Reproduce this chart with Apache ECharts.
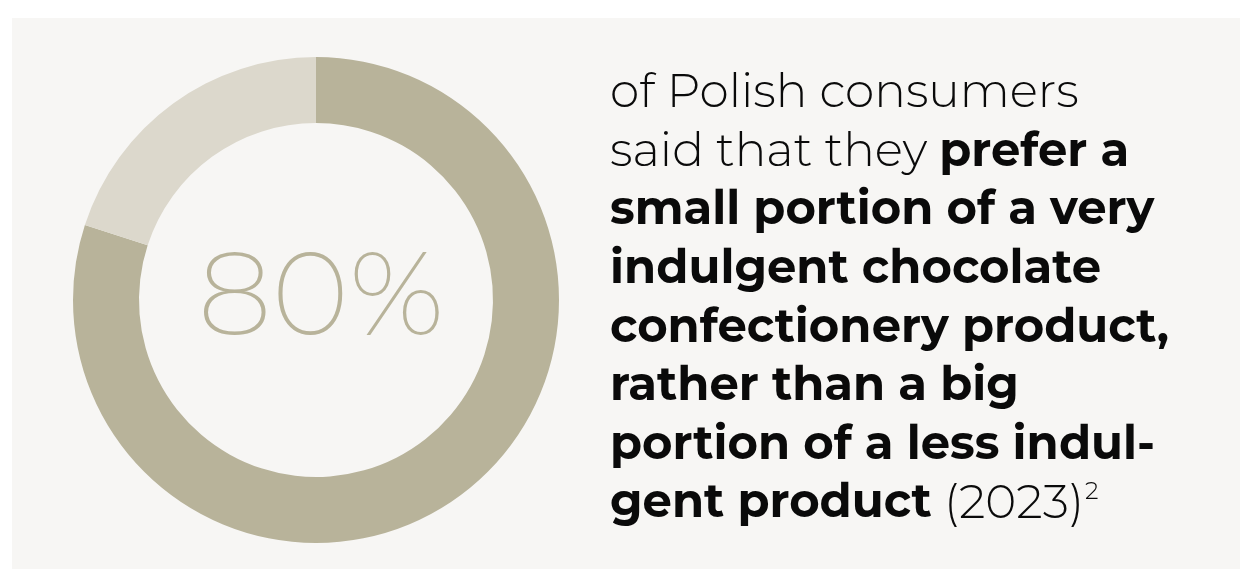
<!DOCTYPE html>
<html>
<head>
<meta charset="utf-8">
<script src="https://cdn.jsdelivr.net/npm/echarts@6/dist/echarts.min.js"></script>
<style>
  html, body { margin: 0; padding: 0; background: #ffffff; }
  #chart { width: 1240px; height: 569px; }
</style>
</head>
<body>
<div id="chart"></div>
<script>
// Share of Polish consumers preferring a small, very indulgent portion
const categories = ['Prefer a small indulgent portion', 'Other'];
const shares = [80, 20];
const sliceColors = ['#b8b39a', '#dcd8cc'];

// Statement text, line by line: [style, text] fragments
const statementLines = [
  [['light', 'of Polish consumers']],
  [['light', 'said that they '], ['bold', 'prefer a']],
  [['bold', 'small portion of a very']],
  [['bold', 'indulgent chocolate']],
  [['bold', 'confectionery product,']],
  [['bold', 'rather than a big']],
  [['bold', 'portion of a less indul-']],
  [['bold', 'gent product'], ['light', ' (2023)'], ['sup', '2']]
];

const FONT = 'Montserrat, Inter, "Noto Sans", sans-serif';
const LINE_H = 58.6;

const chart = echarts.init(document.getElementById('chart'), null, { renderer: 'canvas' });

const richText = statementLines
  .map(line => line.map(([s, t]) => '{' + s + '|' + t + '}').join(''))
  .join('\n');

chart.setOption({
  backgroundColor: '#ffffff',
  animation: false,
  graphic: [
    {
      type: 'rect',
      z: -10,
      shape: { x: 12, y: 18, width: 1240 - 12, height: 569 - 18 },
      style: { fill: '#f7f6f4' }
    },
    {
      type: 'text',
      left: 610,
      top: 70,
      style: {
        text: richText,
        fill: '#0a0a0a',
        rich: {
          light: { fontFamily: FONT, fontSize: 47, fontWeight: 300, lineHeight: LINE_H, fill: '#0a0a0a' },
          bold: { fontFamily: FONT, fontSize: 46.5, fontWeight: 700, lineHeight: LINE_H, fill: '#0a0a0a' },
          sup: { fontFamily: FONT, fontSize: 24, fontWeight: 300, lineHeight: LINE_H, verticalAlign: 'top', padding: [6, 0, 0, 1], fill: '#0a0a0a' }
        }
      }
    }
  ],
  series: [
    {
      type: 'pie',
      center: [316, 300],
      radius: [177, 243],
      startAngle: 90,
      clockwise: true,
      silent: true,
      label: { show: false },
      labelLine: { show: false },
      data: categories.map((name, i) => ({
        name: name,
        value: shares[i],
        itemStyle: { color: sliceColors[i] },
        label: i === 0 ? {
          show: true,
          position: 'center',
          formatter: '{c}%',
          fontFamily: FONT,
          fontSize: 118,
          fontWeight: 200,
          color: '#b8b39a',
          padding: [0, 0, 0, 10]
        } : { show: false }
      }))
    }
  ]
});
</script>
</body>
</html>
